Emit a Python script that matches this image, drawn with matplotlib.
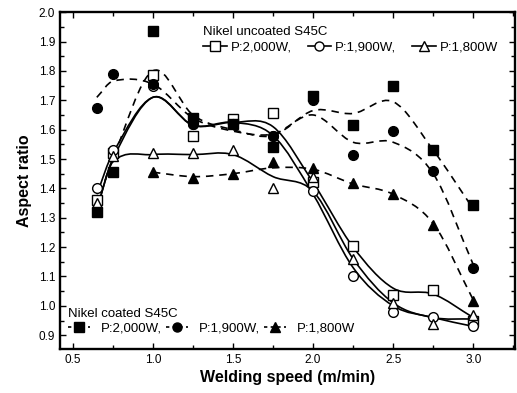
import matplotlib
matplotlib.use('Agg')
import matplotlib.pyplot as plt
from matplotlib.path import Path
from matplotlib.patches import PathPatch
from matplotlib.lines import Line2D

plt.rcParams['font.family'] = ['Liberation Sans', 'DejaVu Sans']

# welding speed (m/min)
speed = [0.65, 0.75, 1.0, 1.25, 1.5, 1.75, 2.0, 2.25, 2.5, 2.75, 3.0]
speed_tri = [1.0, 1.25, 1.5, 1.75, 2.0, 2.25, 2.5, 2.75, 3.0]

# Nikel uncoated S45C (open markers, solid curves)
unc_2000 = [1.36, 1.52, 1.785, 1.58, 1.635, 1.655, 1.42, 1.203, 1.036, 1.053, 0.95]
unc_1900 = [1.40, 1.53, 1.75, 1.62, 1.62, 1.58, 1.39, 1.10, 0.978, 0.961, 0.93]
unc_1800 = [1.35, 1.51, 1.52, 1.52, 1.53, 1.40, 1.44, 1.16, 1.01, 0.937, 0.968]
unc_2000_fit = [1.33, 1.50, 1.71, 1.615, 1.625, 1.61, 1.42, 1.20, 1.06, 1.04, 0.96]
unc_1900_fit = [1.38, 1.52, 1.71, 1.615, 1.625, 1.58, 1.38, 1.13, 1.00, 0.96, 0.93]
unc_1800_fit = [1.33, 1.49, 1.515, 1.515, 1.515, 1.44, 1.39, 1.16, 1.01, 0.96, 0.955]

# Nikel coated S45C (filled markers, dashed curves)
coat_2000 = [1.32, 1.455, 1.935, 1.64, 1.62, 1.54, 1.715, 1.615, 1.748, 1.53, 1.343]
coat_1900 = [1.673, 1.79, 1.755, 1.62, 1.62, 1.58, 1.70, 1.513, 1.595, 1.46, 1.13]
coat_1800 = [1.455, 1.435, 1.45, 1.49, 1.47, 1.418, 1.38, 1.275, 1.016]
coat_2000_fit = [1.34, 1.50, 1.80, 1.65, 1.60, 1.58, 1.665, 1.655, 1.695, 1.53, 1.33]
coat_1900_fit = [1.71, 1.765, 1.755, 1.64, 1.595, 1.585, 1.65, 1.557, 1.557, 1.45, 1.14]
coat_1800_fit = [1.455, 1.44, 1.45, 1.47, 1.465, 1.415, 1.38, 1.28, 1.02]

powers = ['P:2,000W,', 'P:1,900W,', 'P:1,800W']
markers = ['s', 'o', '^']


def smooth_curve(ax, xs, ys, ls):
    # cubic hermite through the curve values, drawn as bezier path
    n = len(xs)
    m = []
    for i in range(n):
        a = max(i - 1, 0)
        b = min(i + 1, n - 1)
        m.append((ys[b] - ys[a]) / (xs[b] - xs[a]))
    verts = [(xs[0], ys[0])]
    codes = [Path.MOVETO]
    for i in range(n - 1):
        d = (xs[i + 1] - xs[i]) / 3
        verts += [(xs[i] + d, ys[i] + m[i] * d),
                  (xs[i + 1] - d, ys[i + 1] - m[i + 1] * d),
                  (xs[i + 1], ys[i + 1])]
        codes += [Path.CURVE4] * 3
    ax.add_patch(PathPatch(Path(verts, codes), fill=False, ec='black',
                           lw=1.2, ls=ls, zorder=2))


fig = plt.figure(figsize=(5.17, 3.93), dpi=100)
ax = fig.add_axes([0.116, 0.112, 0.88, 0.857])

dash = (0, (4.5, 3.5))
for fit in (unc_2000_fit, unc_1900_fit, unc_1800_fit):
    smooth_curve(ax, speed, fit, '-')
for fit, xs in ((coat_2000_fit, speed), (coat_1900_fit, speed), (coat_1800_fit, speed_tri)):
    smooth_curve(ax, xs, fit, dash)

for vals, mk in zip((unc_2000, unc_1900, unc_1800), markers):
    ax.plot(speed, vals, ls='none', marker=mk, ms=7, mfc='white', mec='black',
            mew=1.0, zorder=3)
for vals, xs, mk in zip((coat_2000, coat_1900, coat_1800),
                        (speed, speed, speed_tri), markers):
    ax.plot(xs, vals, ls='none', marker=mk, ms=7, mfc='black', mec='black',
            zorder=4)

ax.set_xlim(0.42, 3.26)
ax.set_ylim(0.853, 2.0)
ax.set_xticks([0.5, 1.0, 1.5, 2.0, 2.5, 3.0])
ax.set_xticks([0.75, 1.25, 1.75, 2.25, 2.75, 3.25], minor=True)
ax.set_yticks([0.9, 1.0, 1.1, 1.2, 1.3, 1.4, 1.5, 1.6, 1.7, 1.8, 1.9, 2.0])
ax.set_yticks([0.95 + 0.1 * i for i in range(11)], minor=True)
ax.tick_params(which='both', direction='in', top=True, right=True,
               labelsize=8.5, width=1.0)
ax.tick_params(which='major', length=4)
ax.tick_params(which='minor', length=3)
for s in ax.spines.values():
    s.set_linewidth(1.7)

ax.set_xlabel('Welding speed (m/min)', fontsize=11.5, fontweight='bold', labelpad=3)
ax.set_ylabel('Aspect ratio', fontsize=11.5, fontweight='bold', labelpad=5)

# legends
h_unc = [Line2D([], [], color='black', lw=1.2, marker=mk, ms=6.5, mfc='white',
                mec='black') for mk in markers]
h_coat = [Line2D([], [], color='black', lw=1.2, ls=(0, (2, 2)), marker=mk, ms=6.5,
                 mfc='black', mec='black') for mk in markers]

leg1 = ax.legend(h_unc, powers, title='Nikel uncoated S45C', ncol=3,
                 loc='upper left', bbox_to_anchor=(0.3, 0.978), frameon=False,
                 fontsize=9.5, title_fontsize=9.5, alignment='left', borderpad=0,
                 handlelength=1.8, handletextpad=0.3, columnspacing=1.2,
                 labelspacing=0.2)
leg1._legend_box.sep = 2
ax.add_artist(leg1)
leg2 = ax.legend(h_coat, powers, title='Nikel coated S45C', ncol=3,
                 loc='lower left', bbox_to_anchor=(0.003, 0.022), frameon=False,
                 fontsize=9.5, title_fontsize=9.5, alignment='left', borderpad=0,
                 handlelength=1.7, handletextpad=0.8, columnspacing=0.3,
                 labelspacing=0.2)
leg2._legend_box.sep = 2

fig.savefig('out.png', dpi=100)
